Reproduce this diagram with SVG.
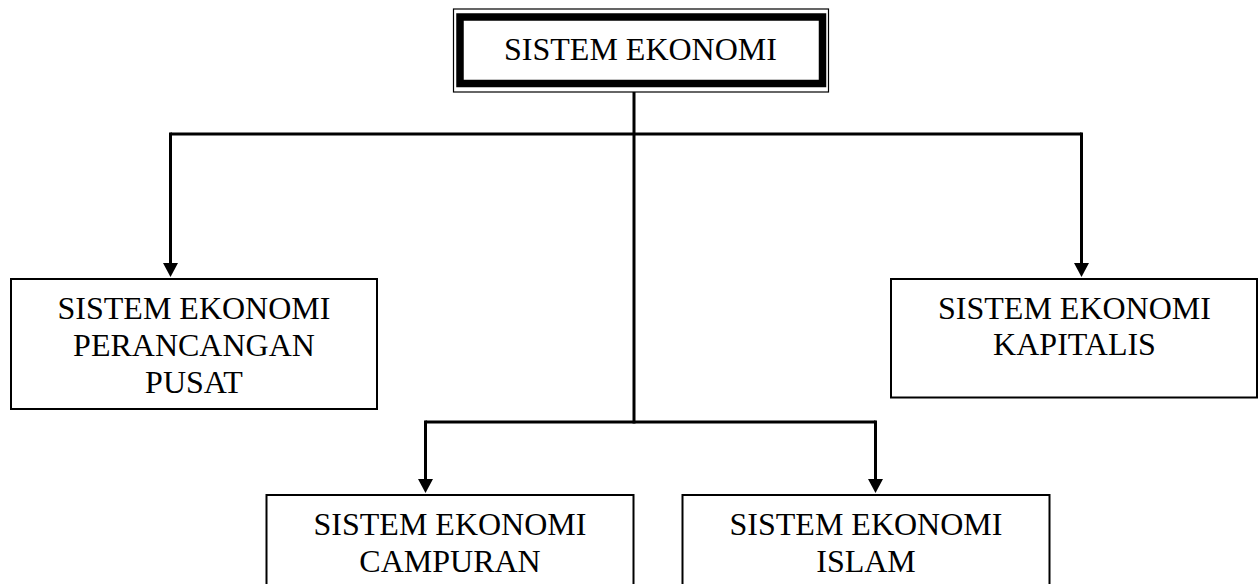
<svg xmlns="http://www.w3.org/2000/svg" width="1260" height="584" viewBox="0 0 1260 584">
<style>
.box{fill:#fff;stroke:#000;stroke-width:2}
.lbl{font-family:"Liberation Serif","Times New Roman",serif;font-size:32px;fill:#000;text-anchor:middle}
.con{fill:none;stroke:#000;stroke-width:3}
</style>
<defs>
<marker id="arr" viewBox="0 0 14 15" refX="7" refY="7.5" markerWidth="14" markerHeight="15" markerUnits="userSpaceOnUse" orient="auto">
<path d="M0,0 L14,7.5 L0,15 z" fill="#000"/>
</marker>
</defs>
<rect width="1260" height="584" fill="#fff"/>
<g id="connectors">
<path class="con" d="M634,92 V423.5"/>
<path class="con" d="M170.5,134 H1081.5"/>
<path class="con" d="M170.5,132.5 V270" marker-end="url(#arr)"/>
<path class="con" d="M1081.5,132.5 V270" marker-end="url(#arr)"/>
<path class="con" d="M425.5,422 H875.5"/>
<path class="con" d="M425.5,420.5 V486" marker-end="url(#arr)"/>
<path class="con" d="M875.5,420.5 V486" marker-end="url(#arr)"/>
</g>
<g id="node-root">
<rect x="453.5" y="9" width="375" height="83" fill="#fff" stroke="#000" stroke-width="1.2"/>
<rect x="460" y="17" width="362.5" height="66.5" fill="#fff" stroke="#000" stroke-width="7.5"/>
<text class="lbl" x="640.5" y="60">SISTEM EKONOMI</text>
</g>
<g id="node-perancangan">
<rect class="box" x="11" y="279" width="366" height="130"/>
<text class="lbl" x="194" y="318.5">SISTEM EKONOMI</text>
<text class="lbl" x="194" y="355.7">PERANCANGAN</text>
<text class="lbl" x="194" y="392.9">PUSAT</text>
</g>
<g id="node-kapitalis">
<rect class="box" x="891" y="279" width="366" height="118.5"/>
<text class="lbl" x="1074.5" y="319">SISTEM EKONOMI</text>
<text class="lbl" x="1074.5" y="355">KAPITALIS</text>
</g>
<g id="node-campuran">
<rect class="box" x="266.5" y="495" width="367" height="100"/>
<text class="lbl" x="450" y="535">SISTEM EKONOMI</text>
<text class="lbl" x="450" y="572">CAMPURAN</text>
</g>
<g id="node-islam">
<rect class="box" x="682.5" y="495" width="367" height="100"/>
<text class="lbl" x="866" y="535">SISTEM EKONOMI</text>
<text class="lbl" x="866" y="572">ISLAM</text>
</g>
</svg>
